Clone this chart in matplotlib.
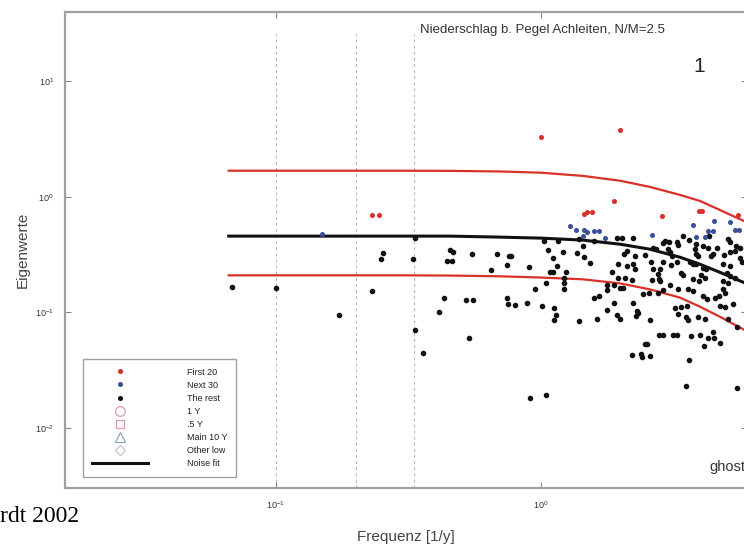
import numpy as np
import matplotlib
matplotlib.use("Agg")
import matplotlib.pyplot as plt
from matplotlib.lines import Line2D

plt.rcParams['font.family'] = ['Liberation Sans', 'DejaVu Sans']

# --- eigenvalues: first 20 (red) ---
red_f = [0.231, 0.245, 1.00, 1.99, 1.89, 1.45, 1.49, 1.56, 2.87, 3.96, 4.05, 5.54]
red_v = [0.690, 0.697, 3.27, 3.76, 0.914, 0.711, 0.740, 0.745, 0.679, 0.755, 0.755, 0.697]

# --- next 30 (blue) ---
blue_f = [0.149, 1.29, 1.36, 1.46, 1.49, 1.59, 1.66, 1.44, 1.75, 2.63, 3.76, 4.51,
          5.17, 4.27, 4.47, 3.85, 4.18, 5.40, 5.60]
blue_v = [0.476, 0.562, 0.521, 0.521, 0.495, 0.502, 0.508, 0.454, 0.439, 0.469, 0.573, 0.621,
          0.600, 0.508, 0.508, 0.451, 0.451, 0.516, 0.520]

# --- the rest (black) ---
rest_f = [0.0681, 0.100, 0.253, 0.249, 0.231, 0.173, 0.336, 0.330, 0.334, 0.358,
          0.456, 0.467, 0.443, 0.463, 0.548, 0.682, 0.648, 0.431, 0.412, 0.524,
          0.555, 0.538, 0.759, 0.775, 0.746, 0.901, 1.026, 1.162, 1.060, 1.214,
          1.375, 1.444, 1.457, 1.113, 1.152, 1.081, 1.113, 1.243, 1.531, 1.391,
          1.585, 1.947, 2.022, 2.230, 1.044, 1.218, 1.221, 1.224, 0.952, 0.746,
          0.753, 0.798, 0.883, 1.006, 1.120, 1.139, 1.122, 1.395, 1.627, 1.770,
          1.881, 1.585, 1.656, 1.770, 1.770, 1.886, 1.987, 2.045, 1.947, 1.987,
          2.230, 2.297, 2.329, 2.277, 2.578, 2.432, 2.562, 2.218, 2.075, 1.957,
          1.849, 1.957, 2.106, 2.230, 2.263, 2.062, 2.117, 2.263, 2.483, 2.608,
          2.653, 2.812, 2.795, 2.829, 2.617, 2.771, 2.653, 2.716, 2.893, 3.049,
          2.936, 3.268, 3.297, 3.067, 3.140, 2.893, 3.113, 3.252, 3.376, 3.443,
          3.067, 3.297, 2.893, 2.771, 3.205, 3.376, 3.565, 3.297, 3.546, 3.578,
          3.923, 4.158, 2.788, 2.893, 3.157, 3.268, 3.682, 3.981, 2.469, 2.518,
          2.218, 2.378, 2.399, 2.578, 3.619, 4.122, 4.278, 4.495, 4.468, 4.765,
          3.525, 5.505, 0.909, 1.044, 3.443, 3.619, 3.812, 3.845, 4.097, 4.278,
          4.407, 4.468, 4.603, 4.316, 3.650, 3.737, 3.868, 4.097, 4.194, 4.040,
          4.158, 3.756, 3.957, 3.596, 3.756, 4.097, 4.220, 4.535, 4.708, 4.874,
          4.947, 4.874, 5.090, 5.021, 5.166, 5.395, 4.874, 5.166, 4.917, 5.166,
          5.395, 5.090, 5.166, 5.476, 5.636, 5.636, 5.720, 4.737, 4.947, 5.317,
          5.090, 5.505, 3.868, 3.923, 3.022]
rest_v = [0.164, 0.162, 0.325, 0.288, 0.152, 0.0949, 0.442, 0.292, 0.0697, 0.0448,
          0.345, 0.334, 0.279, 0.279, 0.318, 0.318, 0.232, 0.132, 0.101, 0.127,
          0.129, 0.0602, 0.308, 0.308, 0.257, 0.249, 0.411, 0.411, 0.347, 0.336,
          0.325, 0.376, 0.304, 0.298, 0.252, 0.223, 0.223, 0.223, 0.266, 0.430,
          0.416, 0.439, 0.439, 0.439, 0.178, 0.1995, 0.178, 0.158, 0.158, 0.134,
          0.119, 0.116, 0.121, 0.114, 0.109, 0.0955, 0.0851, 0.0835, 0.0881, 0.1055,
          0.121, 0.1324, 0.138, 0.1555, 0.174, 0.171, 0.163, 0.163, 0.0942, 0.0881,
          0.121, 0.102, 0.0988, 0.0923, 0.0864, 0.1426, 0.1456, 0.190, 0.197, 0.197,
          0.223, 0.261, 0.252, 0.261, 0.239, 0.318, 0.340, 0.308, 0.312, 0.270,
          0.236, 0.236, 0.193, 0.186, 0.190, 0.213, 0.364, 0.352, 0.395, 0.403,
          0.416, 0.403, 0.382, 0.330, 0.308, 0.270, 0.257, 0.270, 0.221, 0.209,
          0.174, 0.160, 0.155, 0.1456, 0.109, 0.1106, 0.1127, 0.0975, 0.0912, 0.0851,
          0.0912, 0.0881, 0.0640, 0.0640, 0.0630, 0.0630, 0.0622, 0.0630, 0.0530, 0.0530,
          0.0428, 0.0436, 0.0408, 0.0419, 0.0382, 0.0506, 0.0598, 0.0598, 0.0670, 0.0547,
          0.0230, 0.0219, 0.0179, 0.0192, 0.460, 0.424, 0.352, 0.323, 0.376, 0.357,
          0.308, 0.318, 0.364, 0.454, 0.270, 0.264, 0.261, 0.244, 0.236, 0.209,
          0.1995, 0.193, 0.186, 0.158, 0.1525, 0.138, 0.1316, 0.1336, 0.138, 0.160,
          0.148, 0.186, 0.180, 0.221, 0.206, 0.1995, 0.261, 0.252, 0.312, 0.334,
          0.340, 0.430, 0.403, 0.376, 0.357, 0.298, 0.270, 0.1127, 0.1114, 0.119,
          0.0876, 0.0746, 0.389, 0.308, 0.352]

# --- noise fit and confidence bounds ---
fit_f = [0.0664, 0.123, 0.294, 0.454, 0.700, 1.0, 1.44, 1.99, 2.58, 3.35, 3.98, 4.74, 5.84]
fit_mid = [0.457, 0.457, 0.457, 0.457, 0.448, 0.439, 0.422, 0.389, 0.352, 0.300, 0.261, 0.222, 0.181]
fit_hi = [1.685, 1.685, 1.685, 1.68, 1.66, 1.62, 1.52, 1.38, 1.22, 1.04, 0.923, 0.77, 0.618]
fit_lo = [0.209, 0.209, 0.209, 0.208, 0.205, 0.200, 0.193, 0.178, 0.158, 0.134, 0.112, 0.0915, 0.0707]

# periods marked by dashed lines (10 y, 5 y, 3 y)
period_f = [0.1, 0.2, 1 / 3]

fig = plt.figure(figsize=(7.44, 5.47), dpi=100)
ax = fig.add_axes([65 / 744, 1 - 488 / 547, 682 / 744, 476 / 547])
ax.set_xscale('log')
ax.set_yscale('log')
ax.set_xlim(0.016, 6)
ax.set_ylim(0.003, 40)

for f in period_f:
    ax.plot([f, f], [0.003, 26], color='#b4b4b4', lw=0.8, ls=(0, (2.5, 3)), zorder=1)

ax.plot(fit_f, fit_hi, color='#d9302a', lw=1.6, zorder=2)
ax.plot(fit_f, fit_lo, color='#d9302a', lw=1.6, zorder=2)
ax.plot(fit_f, fit_mid, color='#111111', lw=2.2, zorder=2)

ax.plot(rest_f, rest_v, ls='none', marker='o', ms=3.0, color='#111111', zorder=3)
ax.plot(blue_f, blue_v, ls='none', marker='o', ms=2.6, color='#3a4f9a', zorder=3)
ax.plot(red_f, red_v, ls='none', marker='o', ms=2.6, color='#d9302a', zorder=3)

ax.minorticks_off()
ax.tick_params(which='both', direction='in', top=True, right=True, length=4,
               width=0.8, color='#888888', labelsize=6.5, labelcolor='#333333', pad=8)
for s in ax.spines.values():
    s.set_color('#a0a0a0')
    s.set_linewidth(1.6)

ax.set_xlabel('Frequenz [1/y]', fontsize=11, color='#444444', labelpad=14)
ax.set_ylabel('Eigenwerte', fontsize=11, color='#444444', labelpad=4)

ax.text(1.01, 28, 'Niederschlag b. Pegel Achleiten, N/M=2.5', fontsize=9.5,
        color='#333333', ha='center', va='center')
ax.text(3.95, 13.5, '1', fontsize=15, color='#222222', ha='center', va='center')
ax.text(0.945, 0.03, 'ghost', transform=ax.transAxes, fontsize=10.5, color='#333333',
        ha='left', va='bottom')

handles = [
    Line2D([], [], ls='none', marker='o', ms=2.6, color='#d9302a'),
    Line2D([], [], ls='none', marker='o', ms=2.6, color='#3a4f9a'),
    Line2D([], [], ls='none', marker='o', ms=2.6, color='#111111'),
    Line2D([], [], ls='none', marker='o', ms=7, mfc='none', mec='#e0a0a8', mew=0.9),
    Line2D([], [], ls='none', marker='s', ms=6, mfc='none', mec='#d8a0a0', mew=0.9),
    Line2D([], [], ls='none', marker='^', ms=7, mfc='none', mec='#90a8b8', mew=0.9),
    Line2D([], [], ls='none', marker='D', ms=5, mfc='none', mec='#c8c8c8', mew=0.9),
    Line2D([], [], color='#111111', lw=2.2),
]
labels = ['First 20', 'Next 30', 'The rest', '1 Y', '.5 Y', 'Main 10 Y', 'Other low', 'Noise fit']
leg = ax.legend(handles, labels, loc='lower left', bbox_to_anchor=(0.026, 0.023),
                fontsize=6.5, frameon=True, fancybox=False, edgecolor='#888888',
                labelspacing=0.45, handlelength=6.2, handletextpad=4.3, borderpad=1.0,
                borderaxespad=0)
leg.get_frame().set_linewidth(1.0)
for t in leg.get_texts():
    t.set_color('#222222')

fig.text(0.0, 1 - 522 / 547, 'rdt 2002', fontsize=17, family='Liberation Serif',
         color='#000000', ha='left', va='baseline')

fig.savefig('out.png', dpi=100)
